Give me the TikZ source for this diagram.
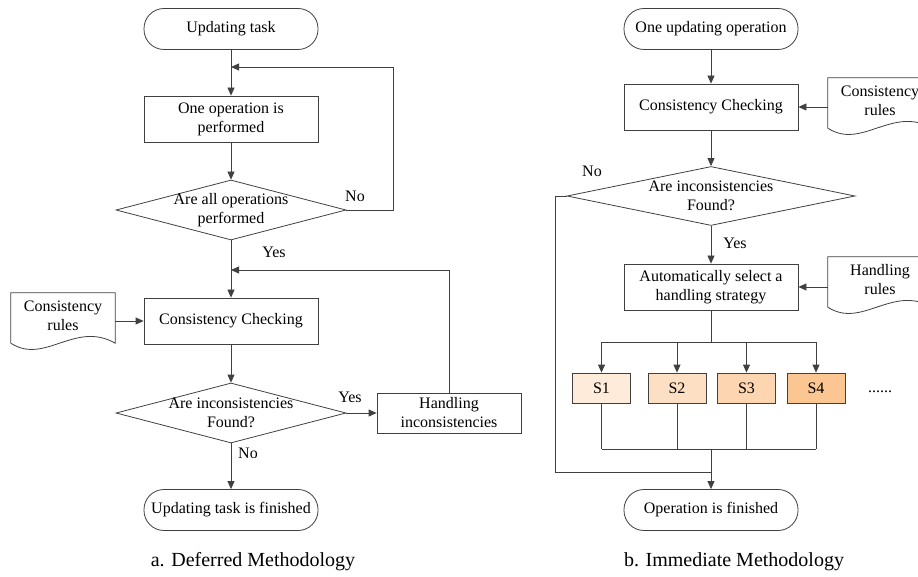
\documentclass[tikz,border=0pt]{standalone}
\usepackage{fontspec}
\setmainfont{Liberation Serif}
\usetikzlibrary{arrows.meta,shapes.geometric}
\definecolor{lineC}{RGB}{64,64,64}
\definecolor{stratC}{RGB}{252,198,146}

\begin{document}
\begin{tikzpicture}[x=1pt,y=-1pt,
  font=\fontsize{16}{19}\selectfont,
  line/.style={draw=lineC, line width=.8pt},
  arr/.style={line, -{Triangle[length=8pt,width=7pt]}},
  term/.style={line, rounded corners=20pt, minimum width=174pt, minimum height=41pt, inner sep=2pt},
  proc/.style={line, minimum width=174pt, minimum height=46pt, align=center, inner sep=0pt},
  dec/.style={diamond, line, minimum width=230pt, minimum height=60pt, inner sep=0pt},
  doc/.style={minimum width=104pt, minimum height=46pt, align=center, inner sep=0pt},
  strat/.style={line, minimum width=58pt, minimum height=30pt, inner sep=0pt},
  caption/.style={font=\fontsize{20}{24}\selectfont}]
\useasboundingbox (0,0) rectangle (918,577);
\clip (0,0) rectangle (918,577);

% a. deferred
\node[term] (start) at (231,29) {Updating task};
\node[proc] (oper) at (231,119) {One operation is\\performed};
\node[dec] (allop) at (231,210) {};
\node[align=center] (allopT) at (allop) {Are all operations\\performed};
\node[proc] (check) at (231,321) {Consistency Checking};
\node[doc] (rules) at (63,316) {Consistency\\rules};
\node[dec] (found) at (231,413) {};
\node[align=center] (foundT) at (found) {Are inconsistencies\\Found?};
\node[proc, minimum width=144pt, minimum height=40pt] (handle) at (449,413) {Handling\\inconsistencies};
\node[term] (done) at (231,510) {Updating task is finished};
\node[caption] (capA) at (253,562) {a. Deferred Methodology};
\coordinate (backA) at (231,67);
\coordinate (cornA) at (393,67);
\coordinate (backB) at (231,270);

\draw[line] ([yshift=-4pt]rules.south west) -- (rules.north west) -- (rules.north east)
  -- ([yshift=-4pt]rules.south east) .. controls +(-40,-23) and +(34,22) .. ([yshift=-4pt]rules.south west);
\draw[arr] (start) -- (oper);
\draw[arr] (oper) -- (allop);
\draw[arr] (allop.east) -- (allop.east -| cornA) -- (cornA) -- (backA);
\draw[arr] (allop) -- (check);
\draw[arr] (rules.east |- check) -- (check);
\draw[arr] (check) -- (found);
\draw[arr] (found) -- (handle);
\draw[arr] (handle.north) |- (backB);
\draw[arr] (found) -- (done);
\node (noA) at (355,196) {No};
\node (yesA) at (274,252) {Yes};
\node (yesB) at (350,397) {Yes};
\node (noB) at (248,453) {No};

% b. immediate
\node[term] (single) at (711,29) {One updating operation};
\node[proc] (check2) at (711,107) {Consistency Checking};
\node[doc] (crules) at (880,101) {Consistency\\rules};
\node[dec, minimum width=288pt, minimum height=59pt] (found2) at (711,196) {};
\node[align=center] (found2T) at (found2) {Are inconsistencies\\Found?};
\node[proc] (select) at (711,287) {Automatically select a\\handling strategy};
\node[doc] (hrules) at (880,280) {Handling\\rules};
\foreach \x/\i/\p in {601.5/1/35, 677/2/55, 746.5/3/72, 816/4/100}
  \node[strat, fill=stratC!\p] (s\i) at (\x,388) {S\i};
\node (more) at (880,392) {......};
\node[term] (finish) at (711,510) {Operation is finished};
\node[caption] (capB) at (734,562) {b. Immediate Methodology};
\coordinate (splitT) at (711,342);
\coordinate (splitB) at (711,449);
\coordinate (merge) at (711,472);
\coordinate (cornC) at (555,472);

\foreach \n in {crules,hrules}
  \draw[line] ([yshift=-4pt]\n.south west) -- (\n.north west) -- (\n.north east)
    -- ([yshift=-4pt]\n.south east) .. controls +(-40,-23) and +(34,22) .. ([yshift=-4pt]\n.south west);
\draw[arr] (single) -- (check2);
\draw[arr] (crules.west |- check2) -- (check2);
\draw[arr] (check2) -- (found2);
\draw[arr] (found2) -- (select);
\draw[arr] (hrules.west |- select) -- (select);
\draw[line] (select) -- (splitT);
\draw[line] (s1 |- splitT) -- (s4 |- splitT);
\foreach \i in {1,...,4} {
  \draw[arr] (s\i |- splitT) -- (s\i);
  \draw[line] (s\i) -- (s\i |- splitB);
}
\draw[line] (s1 |- splitB) -- (s4 |- splitB);
\draw[arr] (splitB) -- (finish);
\draw[line] (found2.west) -- (found2.west -| cornC) -- (cornC) -- (merge);
\node (noC) at (592,171) {No};
\node (yesC) at (735,243) {Yes};
\end{tikzpicture}
\end{document}
